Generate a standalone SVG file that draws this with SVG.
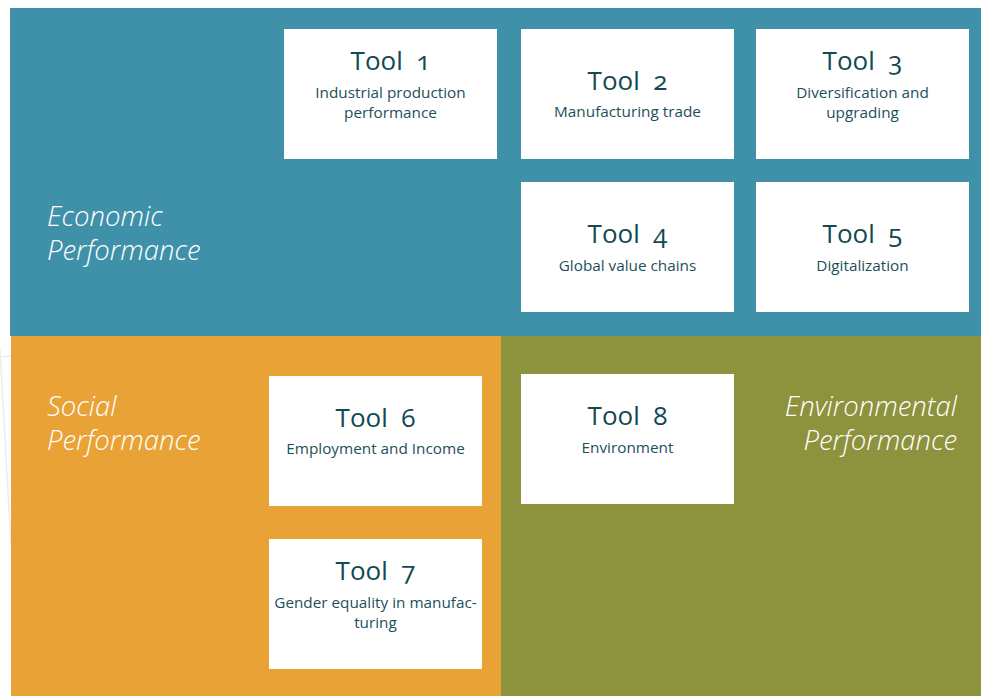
<svg xmlns="http://www.w3.org/2000/svg" width="981" height="696" viewBox="0 0 981 696">
<style>
.box{fill:#ffffff}
.t{font-family:"Open Sans","Liberation Sans",sans-serif;font-size:26px;fill:#134952;text-anchor:middle;font-variant-numeric:oldstyle-nums;white-space:pre}
.s{font-family:"Open Sans","Liberation Sans",sans-serif;font-size:15.3px;fill:#1d4f5a;text-anchor:middle}
.c{font-family:"Open Sans","Liberation Sans",sans-serif;font-size:27.5px;font-style:italic;font-weight:300;fill:#ffffff}
</style>
<rect width="981" height="696" fill="#ffffff"/>
<g id="decor" stroke="#ececec" stroke-width="1.5" fill="none">
<line x1="0" y1="357" x2="11" y2="356"/>
<line x1="0" y1="350" x2="11" y2="545"/>
</g>
<g id="economic">
<rect x="10" y="8" width="971" height="328" fill="#3f91aa"/>
<text class="c" x="47" y="226">Economic</text>
<text class="c" x="47" y="260">Performance</text>
</g>
<g id="social">
<rect x="11" y="336" width="490" height="360" fill="#e9a236"/>
<text class="c" x="47" y="416">Social</text>
<text class="c" x="47" y="450">Performance</text>
</g>
<g id="environmental">
<rect x="501" y="336" width="480" height="360" fill="#8d923c"/>
<text class="c" x="957" y="416" text-anchor="end">Environmental</text>
<text class="c" x="957" y="450" text-anchor="end">Performance</text>
</g>
<g id="tool1">
<rect class="box" x="284" y="29" width="213" height="130"/>
<text class="t" x="390.5" y="70" xml:space="preserve">Tool  1</text>
<text class="s" x="390.5" y="98">Industrial production</text>
<text class="s" x="390.5" y="118">performance</text>
</g>
<g id="tool2">
<rect class="box" x="521" y="29" width="213" height="130"/>
<text class="t" x="627.5" y="90" xml:space="preserve">Tool  2</text>
<text class="s" x="627.5" y="117">Manufacturing trade</text>
</g>
<g id="tool3">
<rect class="box" x="756" y="29" width="213" height="130"/>
<text class="t" x="862.5" y="70" xml:space="preserve">Tool  3</text>
<text class="s" x="862.5" y="98">Diversification and</text>
<text class="s" x="862.5" y="118">upgrading</text>
</g>
<g id="tool4">
<rect class="box" x="521" y="182" width="213" height="130"/>
<text class="t" x="627.5" y="243" xml:space="preserve">Tool  4</text>
<text class="s" x="627.5" y="271">Global value chains</text>
</g>
<g id="tool5">
<rect class="box" x="756" y="182" width="213" height="130"/>
<text class="t" x="862.5" y="243" xml:space="preserve">Tool  5</text>
<text class="s" x="862.5" y="271">Digitalization</text>
</g>
<g id="tool6">
<rect class="box" x="269" y="376" width="213" height="130"/>
<text class="t" x="375.5" y="427" xml:space="preserve">Tool  6</text>
<text class="s" x="375.5" y="454">Employment and Income</text>
</g>
<g id="tool7">
<rect class="box" x="269" y="539" width="213" height="130"/>
<text class="t" x="375.5" y="580" xml:space="preserve">Tool  7</text>
<text class="s" x="375.5" y="608">Gender equality in manufac-</text>
<text class="s" x="375.5" y="628">turing</text>
</g>
<g id="tool8">
<rect class="box" x="521" y="374" width="213" height="130"/>
<text class="t" x="627.5" y="425" xml:space="preserve">Tool  8</text>
<text class="s" x="627.5" y="453">Environment</text>
</g>
<g id="connectors"></g>
</svg>
